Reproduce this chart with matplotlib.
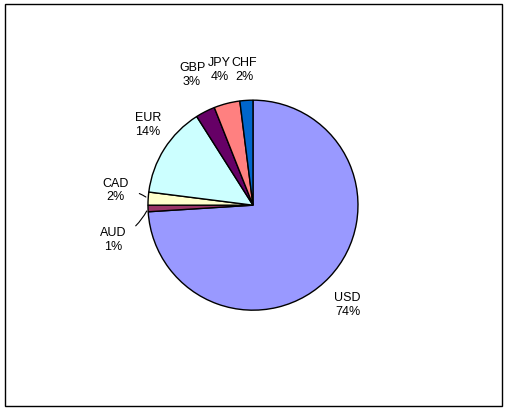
import matplotlib
matplotlib.use("Agg")
import matplotlib.pyplot as plt
import numpy as np

names = ["USD", "AUD", "CAD", "EUR", "GBP", "JPY", "CHF"]
values = [74, 1, 2, 14, 3, 4, 2]
colors = ["#9999FF", "#993366", "#FFFFCC", "#CCFFFF", "#660066", "#FF8080", "#0066CC"]

# label text positions (in pie radius units)
label_pos = {"USD": (0.9, -0.95), "AUD": (-1.33, -0.33), "CAD": (-1.31, 0.14),
             "EUR": (-1.0, 0.76), "GBP": (-0.58, 1.24), "JPY": (-0.32, 1.29), "CHF": (-0.08, 1.29)}

plt.rcParams['font.family'] = ['Liberation Sans', 'DejaVu Sans']
fig = plt.figure(figsize=(5.08, 4.12), dpi=100)
fig.patches.append(plt.Rectangle((0.01, 0.015), 0.978, 0.975, transform=fig.transFigure,
                                 fill=False, edgecolor='black', linewidth=1))
ax = fig.add_axes([0.498 - 0.2067, 0.502 - 0.255, 0.4134, 0.51])
wedges, _ = ax.pie(values, colors=colors, startangle=90, counterclock=False,
                   wedgeprops=dict(edgecolor='black', linewidth=1))
ax.set_xlim(-1, 1)
ax.set_ylim(-1, 1)
ax.set_aspect('equal')

for w, n, v in zip(wedges, names, values):
    ang = np.deg2rad((w.theta1 + w.theta2) / 2)
    x, y = np.cos(ang), np.sin(ang)
    tx, ty = label_pos[n]
    label = f"{n}\n{v}%"
    if n in ("AUD", "CAD"):
        ax.annotate(label, xy=(x, y), xytext=(tx, ty), ha='center', va='center', fontsize=9,
                    annotation_clip=False,
                    arrowprops=dict(arrowstyle='-', color='black', lw=0.8, shrinkA=6,
                                    connectionstyle="arc3,rad=0.2" if n == "AUD" else "arc3,rad=-0.2"))
    else:
        ax.text(tx, ty, label, ha='center', va='center', fontsize=9, clip_on=False)
fig.savefig("out.png", dpi=100)
